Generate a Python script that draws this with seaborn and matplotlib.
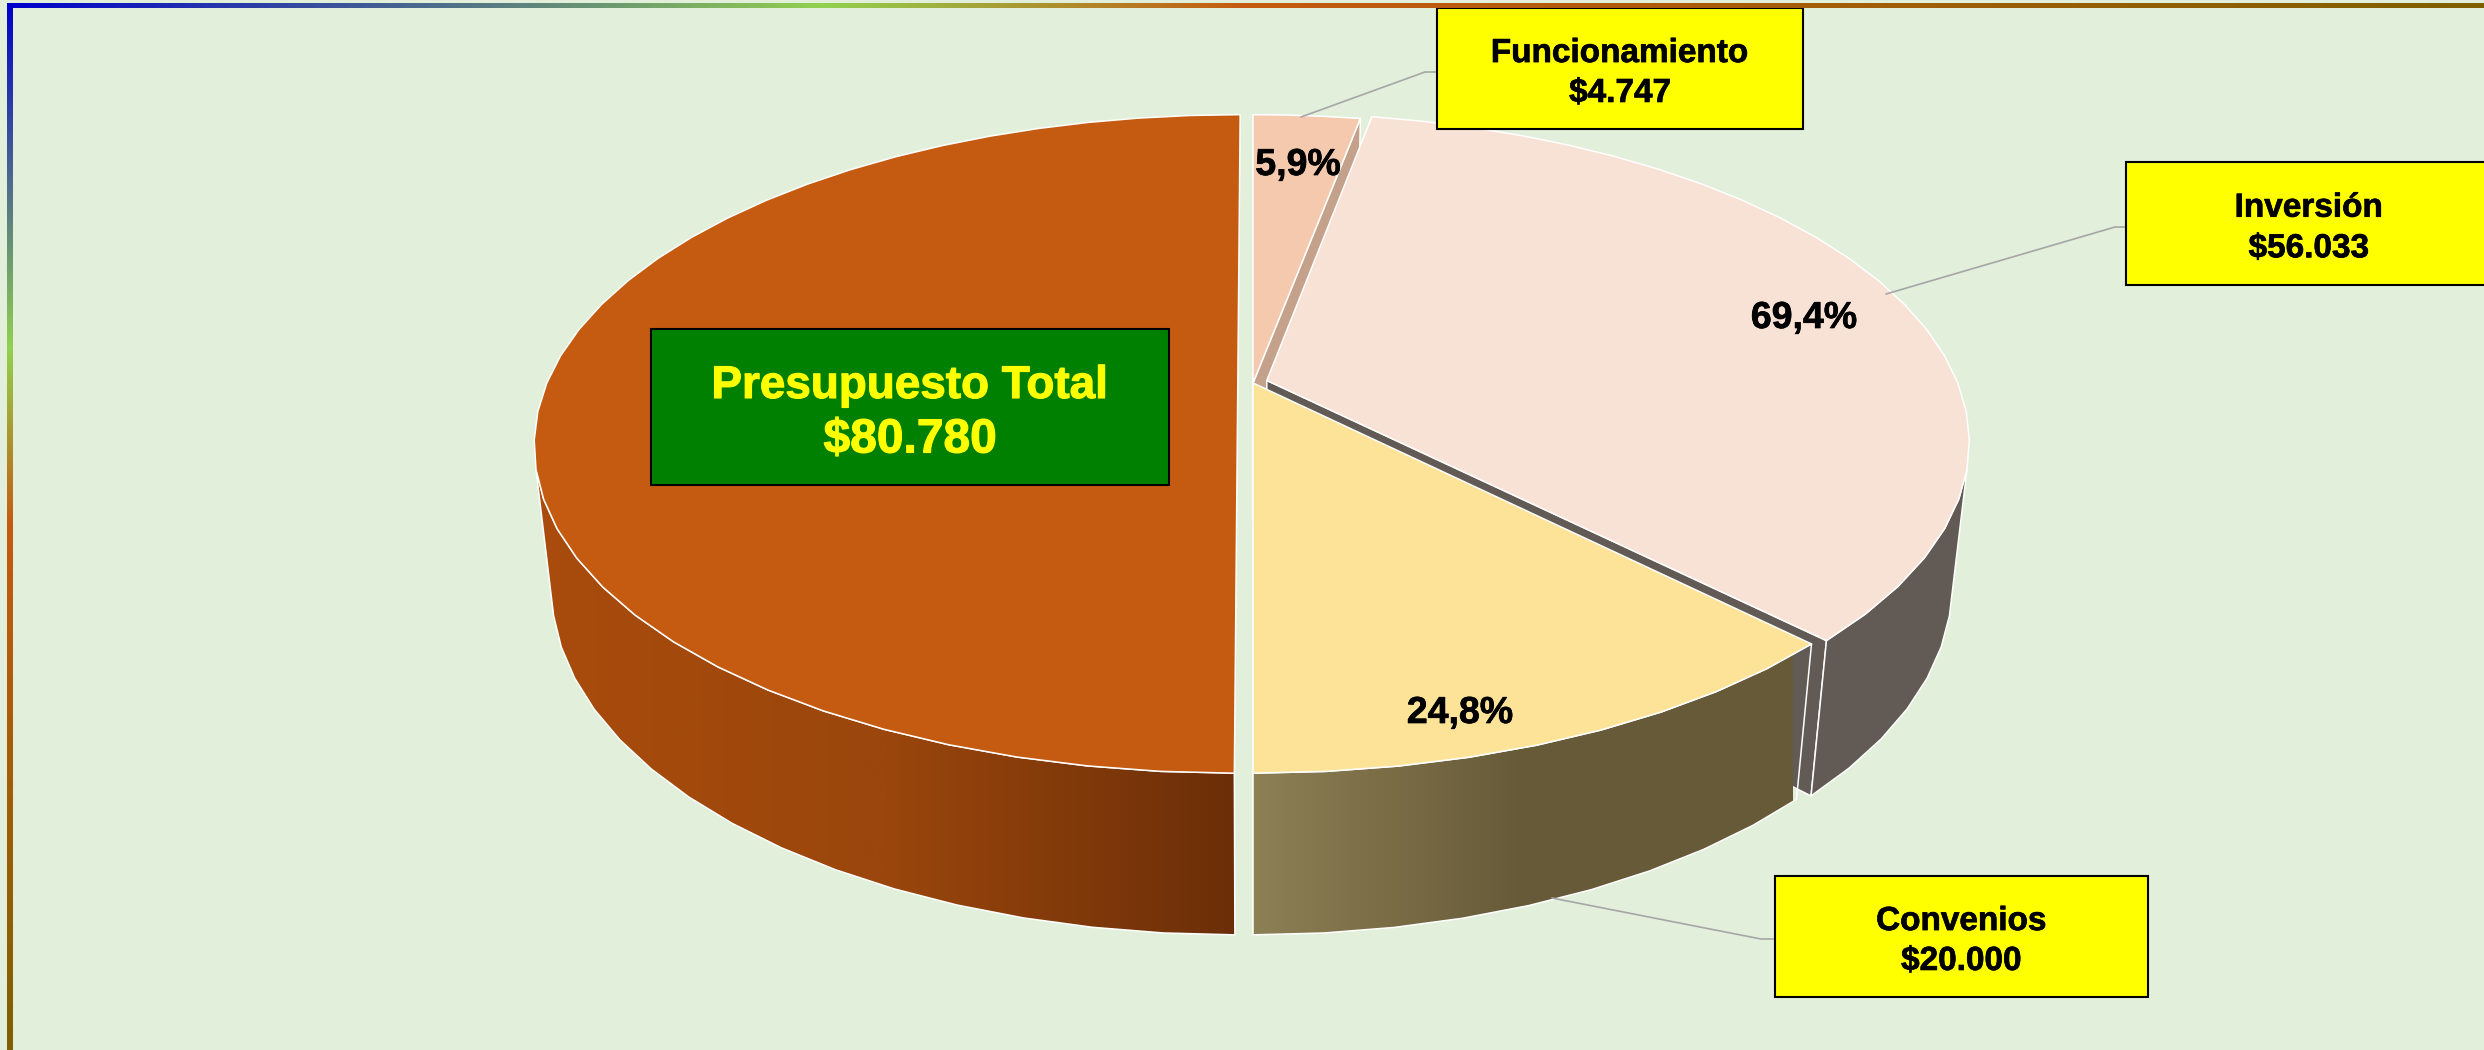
import numpy as np
import seaborn as sns
import matplotlib
matplotlib.use("Agg")
import matplotlib.pyplot as plt
import matplotlib.patheffects as pe
from matplotlib.patches import Polygon, Rectangle

sns.set_theme(style="white")
plt.rcParams['font.family'] = ['Liberation Sans', 'DejaVu Sans']

# ---- data -------------------------------------------------------------
categories = ["Funcionamiento", "Inversión", "Convenios"]
values = [4747, 56033, 20000]
total_label = "Presupuesto Total"
total_value = 80780

# ---- styles -----------------------------------------------------------
BG = "#E2EFDA"
top_colors = ["#F5C9AE", "#F8E2D5", "#FCE397"]
wall_colors = ["#C4A18B", "#625A54", "#675A38"]
ORANGE = "#C55A11"

# view model: unit-circle pie seen through a projective camera
CX, CY = 1253.0, 383.0
MX, KY, PY = 691.0, 318.0, 0.185
HZ, QZ = 145.0, 0.024
FACET = 5.0


def project(th_deg, r=1.0, z=0.0, dx=0.0, dy=0.0):
    th = np.radians(th_deg)
    X = r * np.sin(th) + dx
    Y = -r * np.cos(th) + dy
    w = 1 - PY * Y + QZ * z
    return CX + MX * X / w, CY + (KY * Y + HZ * z) / w


def arc(a, b):
    n = max(int(np.ceil((b - a) / FACET)), 1)
    return np.linspace(a, b, n + 1)


fig = plt.figure(figsize=(24.84, 10.5), dpi=100, facecolor=BG)
ax = fig.add_axes([0, 0, 1, 1])
ax.set_facecolor(BG)
ax.set_xlim(0, 2484)
ax.set_ylim(1050, 0)
ax.axis("off")

z_now = [2.0]


def nz():
    z_now[0] += 1
    return z_now[0]


def poly(xs, ys, color):
    p = Polygon(np.column_stack([xs, ys]), closed=True, facecolor=color,
                edgecolor="white", lw=1.1, zorder=nz(), joinstyle="round")
    ax.add_patch(p)
    return p


def gradient_poly(xs, ys, cmap_colors, x0, x1):
    p = Polygon(np.column_stack([xs, ys]), closed=True, facecolor="none",
                edgecolor="none", zorder=nz())
    ax.add_patch(p)
    grad = np.array(cmap_colors)[None, :, :]
    im = ax.imshow(grad, extent=(x0, x1, 1050, 0), aspect="auto",
                   interpolation="bilinear", zorder=nz())
    im.set_clip_path(p)
    ax.add_patch(Polygon(np.column_stack([xs, ys]), closed=True, facecolor="none",
                         edgecolor="white", lw=1.1, zorder=nz(), joinstyle="round"))


def front_run(th, **off):
    """Keep only the facets of the rim that face the viewer."""
    xt, yt = project(th, **off)
    xb, yb = project(th, z=1.0, **off)
    areas = []
    for i in range(len(th) - 1):
        qx = [xt[i], xt[i + 1], xb[i + 1], xb[i]]
        qy = [yt[i], yt[i + 1], yb[i + 1], yb[i]]
        areas.append(sum(qx[j] * qy[(j + 1) % 4] - qx[(j + 1) % 4] * qy[j] for j in range(4)))
    areas = np.array(areas)
    keep = np.nonzero(areas < 0)[0]
    return th[keep[0]:keep[-1] + 2]


def outer_wall(a, b, color=None, grad=None, x_range=None, **off):
    th = front_run(arc(a, b), **off)
    xt, yt = project(th, **off)
    xb, yb = project(th, z=1.0, **off)
    xs = np.r_[xt, xb[::-1]]
    ys = np.r_[yt, yb[::-1]]
    if grad is not None:
        gradient_poly(xs, ys, grad, *x_range)
    else:
        poly(xs, ys, color)


def radial_wall(th, color, **off):
    x0, y0 = project(th, r=0, **off)
    x0b, y0b = project(th, r=0, z=1.0, **off)
    x1, y1 = project(th, **off)
    x1b, y1b = project(th, z=1.0, **off)
    poly([x0, x1, x1b, x0b], [y0, y1, y1b, y0b], color)


def top_face(a, b, color, **off):
    th = arc(a, b)
    x, y = project(th, **off)
    cx, cy = project(0.0, r=0, **off)
    poly(np.r_[cx, x], np.r_[cy, y], color)


# shares of the circle: the right half splits the total, the left half is the total
grand = 2.0 * total_value
ang = np.cumsum([0.0] + [v / grand * 360.0 for v in values])

orange_off = dict(dx=-0.022, dy=0.0)
inv_off = dict(dx=0.020, dy=-0.008)

orange_grad = sns.blend_palette(["#A94C0C", "#9A460C", "#6B2E08"], 256)
yellow_grad = sns.blend_palette(["#8D8055", "#675A38"], 128) + [(0.404, 0.353, 0.22)] * 128

# Presupuesto Total half
outer_wall(180, 360, grad=orange_grad, x_range=(535, 1240), **orange_off)
top_face(180, 360, ORANGE, **orange_off)

# Funcionamiento
radial_wall(ang[1], wall_colors[0])
top_face(ang[0], ang[1], top_colors[0])

# Inversión
radial_wall(ang[2], wall_colors[1], **inv_off)
outer_wall(ang[1], ang[2], color=wall_colors[1], **inv_off)
top_face(ang[1], ang[2], top_colors[1], **inv_off)

# Convenios
outer_wall(ang[2], ang[3], grad=yellow_grad, x_range=(1253, 1793))
top_face(ang[2], ang[3], top_colors[2])

heavy_k = [pe.withStroke(linewidth=0.5, foreground="black")]
heavy_y = [pe.withStroke(linewidth=0.8, foreground="#FFFF00")]

# ---- percentage labels ------------------------------------------------
pct_pos = [(1298, 165), (1804, 318), (1460, 713)]
for v, (px, py) in zip(values, pct_pos):
    s = f"{v / total_value * 100:.1f}%".replace(".", ",")
    ax.text(px, py, s, ha="center", va="center", fontsize=27, fontweight="bold",
            color="black", zorder=60, path_effects=heavy_k)

# ---- connectors -------------------------------------------------------
leaders = [
    ([1301, 1425, 1437], [117, 72, 72]),
    ([1886, 2115, 2126], [294, 227, 227]),
    ([1552, 1761, 1775], [898, 939, 939]),
]
for lx, ly in leaders:
    ax.plot(lx, ly, color="#A6A6A6", lw=1.2, zorder=61)

# ---- callout boxes ----------------------------------------------------
boxes = [(1437, 8, 366, 121), (2126, 162, 366, 123), (1775, 876, 373, 121)]
for name, v, (bx, by, bw, bh) in zip(categories, values, boxes):
    ax.add_patch(Rectangle((bx, by), bw, bh, facecolor="#FFFF00", edgecolor="black",
                           lw=1.5, zorder=62))
    amount = "$" + f"{v:,}".replace(",", ".")
    ax.text(bx + bw / 2, by + bh * 0.335 + 5, name, ha="center", va="center", fontsize=24,
            fontweight="bold", color="black", zorder=63, path_effects=heavy_k)
    ax.text(bx + bw / 2, by + bh * 0.665 + 5, amount, ha="center", va="center", fontsize=24,
            fontweight="bold", color="black", zorder=63, path_effects=heavy_k)

gx, gy, gw, gh = 651, 329, 518, 156
ax.add_patch(Rectangle((gx, gy), gw, gh, facecolor="#008000", edgecolor="black",
                       lw=1.5, zorder=62))
ax.text(gx + gw / 2, gy + 57, total_label, ha="center", va="center", fontsize=33,
        fontweight="bold", color="#FFFF00", zorder=63, path_effects=heavy_y)
ax.text(gx + gw / 2, gy + 111, "$" + f"{total_value:,}".replace(",", "."), ha="center",
        va="center", fontsize=34.5, fontweight="bold", color="#FFFF00", zorder=63,
        path_effects=heavy_y)

# ---- gradient frame (top and left only) -------------------------------
stops = ["#0000CC", "#92D050", "#C55A11", "#7F6000"]
n1, n2, n3 = 330, 170, 500
frame = (sns.blend_palette(stops[:2], n1) + sns.blend_palette(stops[1:3], n2)
         + sns.blend_palette(stops[2:], n3))
frame = np.array(frame)
ax.imshow(frame[None, :, :], extent=(7, 2484, 8, 3), aspect="auto", zorder=70)
ax.imshow(frame[:, None, :], extent=(7, 13, 1050, 3), aspect="auto", origin="upper", zorder=70)
ax.set_xlim(0, 2484)
ax.set_ylim(1050, 0)

fig.savefig("out.png", dpi=100, facecolor=BG)
